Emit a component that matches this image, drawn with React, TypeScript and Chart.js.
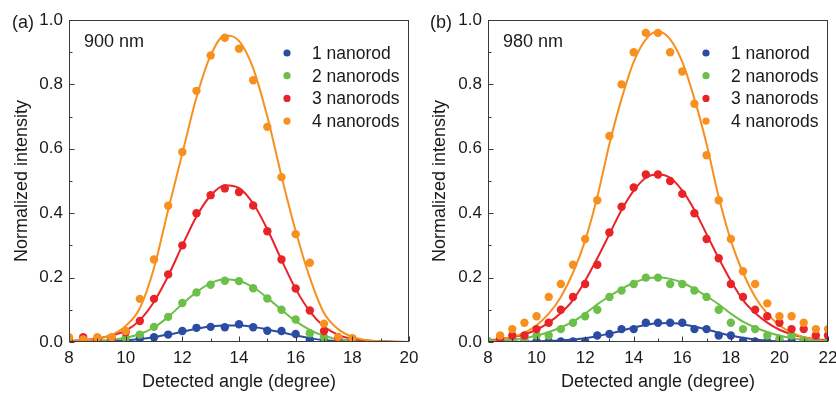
import React, { useEffect, useRef } from 'react';
import { Chart, registerables } from 'chart.js';

Chart.register(...registerables);

const FONT = "'Liberation Sans', Arial, sans-serif";
const TEXT_COLOR = '#1a1a1a';
const FRAME_COLOR = '#3a3a3a';

const SERIES_LABELS = ['1 nanorod', '2 nanorods', '3 nanorods', '4 nanorods'];
const SERIES_COLORS = ['#2b4ca3', '#6cbf48', '#e92429', '#f7901e'];

const X_TITLE = 'Detected angle (degree)';
const Y_TITLE = 'Normalized intensity';

// ---------- Panel (a): 900 nm ----------
const ANGLES_A = [8, 8.5, 9, 9.5, 10, 10.5, 11, 11.5, 12, 12.5, 13, 13.5, 14, 14.5, 15, 15.5, 16, 16.5, 17, 17.5, 18];
const A_ONE = [0.003, 0.002, 0.003, 0.004, 0.006, 0.011, 0.015, 0.023, 0.034, 0.044, 0.047, 0.046, 0.055, 0.046, 0.035, 0.034, 0.025, 0.007, 0.003, 0.002, 0.002];
const A_TWO = [0.003, 0.003, 0.004, 0.01, 0.012, 0.023, 0.047, 0.078, 0.121, 0.154, 0.178, 0.19, 0.189, 0.167, 0.135, 0.1, 0.07, 0.027, 0.015, 0.005, 0.003];
const A_THREE = [0.005, 0.015, 0.008, 0.01, 0.03, 0.065, 0.134, 0.21, 0.3, 0.4, 0.456, 0.477, 0.466, 0.424, 0.344, 0.256, 0.166, 0.098, 0.034, 0.01, 0.005];
const A_FOUR = [0.015, 0.008, 0.015, 0.015, 0.034, 0.134, 0.256, 0.423, 0.59, 0.78, 0.89, 0.945, 0.911, 0.813, 0.668, 0.512, 0.335, 0.246, 0.057, 0.016, 0.012];

const FIT_ANGLES_A = [8, 8.5, 9, 9.5, 10, 10.5, 11, 11.5, 12, 12.5, 13, 13.5, 14, 14.5, 15, 15.5, 16, 16.5, 17, 17.5, 18, 18.5, 19, 19.5, 20];
const A_FIT_ONE = [0, 0.001, 0.002, 0.003, 0.005, 0.009, 0.015, 0.023, 0.032, 0.041, 0.048, 0.051, 0.051, 0.047, 0.039, 0.03, 0.02, 0.012, 0.006, 0.003, 0.001, 0, 0, 0, 0];
const A_FIT_TWO = [0.001, 0.002, 0.004, 0.007, 0.013, 0.025, 0.045, 0.078, 0.118, 0.155, 0.183, 0.195, 0.19, 0.17, 0.137, 0.1, 0.065, 0.038, 0.019, 0.009, 0.004, 0.002, 0.001, 0, 0];
const A_FIT_THREE = [0.003, 0.006, 0.011, 0.02, 0.035, 0.068, 0.125, 0.205, 0.3, 0.39, 0.455, 0.487, 0.478, 0.43, 0.35, 0.255, 0.165, 0.095, 0.048, 0.022, 0.009, 0.004, 0.002, 0.001, 0];
const A_FIT_FOUR = [0.002, 0.004, 0.01, 0.022, 0.05, 0.105, 0.23, 0.41, 0.585, 0.76, 0.89, 0.952, 0.935, 0.85, 0.7, 0.515, 0.345, 0.2, 0.09, 0.04, 0.016, 0.006, 0.002, 0.001, 0];

// ---------- Panel (b): 980 nm ----------
const ANGLES_B = [8, 8.5, 9, 9.5, 10, 10.5, 11, 11.5, 12, 12.5, 13, 13.5, 14, 14.5, 15, 15.5, 16, 16.5, 17, 17.5, 18, 18.5, 19, 19.5, 20, 20.5, 21, 21.5, 22];
const B_ONE = [0.002, 0.002, 0.002, 0.002, 0.002, 0.002, 0.002, 0.002, 0.002, 0.02, 0.025, 0.04, 0.04, 0.06, 0.06, 0.06, 0.06, 0.04, 0.04, 0.02, 0.02, 0.003, 0.002, 0.002, 0.002, 0.002, 0.002, 0.002, 0.002];
const B_TWO = [0.003, 0.003, 0.005, 0.01, 0.02, 0.02, 0.04, 0.06, 0.08, 0.1, 0.14, 0.16, 0.18, 0.2, 0.2, 0.18, 0.18, 0.16, 0.14, 0.1, 0.06, 0.04, 0.04, 0.02, 0.01, 0.02, 0.005, 0.003, 0.003];
const B_THREE = [null, 0.01, 0.02, 0.02, 0.04, 0.06, 0.1, 0.14, 0.18, 0.24, 0.34, 0.42, 0.48, 0.52, 0.52, 0.5, 0.46, 0.4, 0.32, 0.26, 0.18, 0.14, 0.1, 0.08, 0.06, 0.04, 0.04, 0.02, 0.02];
const B_FOUR = [null, 0.02, 0.04, 0.06, 0.08, 0.14, 0.18, 0.24, 0.32, 0.44, 0.64, 0.8, 0.9, 0.96, 0.96, 0.9, 0.84, 0.74, 0.58, 0.44, 0.32, 0.22, 0.18, 0.12, 0.08, 0.08, 0.06, 0.04, 0.04];

const FIT_ANGLES_B = [8, 8.5, 9, 9.5, 10, 10.5, 11, 11.5, 12, 12.5, 13, 13.5, 14, 14.5, 15, 15.5, 16, 16.5, 17, 17.5, 18, 18.5, 19, 19.5, 20, 20.5, 21, 21.5, 22];
const B_FIT_ONE = [0, 0, 0.001, 0.001, 0.002, 0.003, 0.005, 0.008, 0.012, 0.018, 0.026, 0.035, 0.045, 0.053, 0.058, 0.059, 0.055, 0.048, 0.039, 0.029, 0.02, 0.013, 0.008, 0.004, 0.002, 0.001, 0, 0, 0];
const B_FIT_TWO = [0.002, 0.004, 0.007, 0.012, 0.02, 0.031, 0.045, 0.063, 0.088, 0.117, 0.142, 0.165, 0.184, 0.196, 0.2, 0.196, 0.184, 0.165, 0.142, 0.117, 0.088, 0.063, 0.045, 0.031, 0.02, 0.012, 0.007, 0.004, 0.002];
const B_FIT_THREE = [0.005, 0.009, 0.015, 0.024, 0.038, 0.06, 0.09, 0.13, 0.19, 0.26, 0.335, 0.41, 0.47, 0.51, 0.52, 0.51, 0.47, 0.41, 0.335, 0.26, 0.19, 0.13, 0.09, 0.06, 0.038, 0.024, 0.015, 0.009, 0.005];
const B_FIT_FOUR = [0.003, 0.007, 0.015, 0.029, 0.052, 0.088, 0.14, 0.215, 0.315, 0.45, 0.615, 0.755, 0.87, 0.94, 0.964, 0.94, 0.87, 0.755, 0.615, 0.45, 0.315, 0.215, 0.14, 0.088, 0.052, 0.029, 0.015, 0.007, 0.003];

const Y_MIN = 0;
const Y_MAX = 1;
const Y_STEP = 0.2;
const X_STEP = 2;

const CANVAS_W = 418;
const CANVAS_H = 393;

type PanelProps = {
  left: number;
  tag: string;
  wavelength: string;
  xMin: number;
  xMax: number;
  angles: number[];
  series: (number | null)[][];
  fitAngles: number[];
  fits: number[][];
  plotLeft: number;
  padRight: number;
};

const toPoints = (xs: number[], ys: (number | null)[]) =>
  xs.map((x, i) => ({ x, y: ys[i] })).filter((p) => p.y !== null && p.y !== undefined);

function Panel(props: PanelProps) {
  const ref = useRef<HTMLCanvasElement | null>(null);

  useEffect(() => {
    if (!ref.current) return;
    const p = props;

    const fitSets = p.fits.map((ys, i) => ({
      label: SERIES_LABELS[i] + ' fit',
      data: toPoints(p.fitAngles, ys),
      showLine: true,
      borderColor: SERIES_COLORS[i],
      backgroundColor: SERIES_COLORS[i],
      borderWidth: 2,
      pointRadius: 0,
      cubicInterpolationMode: 'monotone' as const,
      order: 10 - i,
    }));
    const pointSets = p.series.map((ys, i) => ({
      label: SERIES_LABELS[i],
      data: toPoints(p.angles, ys),
      showLine: false,
      borderColor: SERIES_COLORS[i],
      backgroundColor: SERIES_COLORS[i],
      pointRadius: 4.2,
      pointBorderWidth: 0,
      order: 5 - i,
    }));

    const decor = {
      id: 'decor',
      afterDraw(chart: any) {
        const ctx = chart.ctx as CanvasRenderingContext2D;
        const { left, right, top, bottom } = chart.chartArea;
        const xs = chart.scales.x;
        const ys = chart.scales.y;
        ctx.save();
        // frame
        ctx.strokeStyle = FRAME_COLOR;
        ctx.lineWidth = 1;
        const L = Math.round(left) + 0.5;
        const R = Math.round(right) - 0.5;
        const T = Math.round(top) + 0.5;
        const B = Math.round(bottom) - 0.5;
        ctx.strokeRect(L, T, R - L, B - T);
        // inward ticks
        ctx.beginPath();
        const xt = xs.ticks.map((t: any) => t.value);
        xt.forEach((v: number, i: number) => {
          const px = Math.round(xs.getPixelForValue(v)) + 0.5;
          ctx.moveTo(px, B);
          ctx.lineTo(px, B - 5);
          if (i < xt.length - 1) {
            const mv = (v + xt[i + 1]) / 2;
            const mx = Math.round(xs.getPixelForValue(mv)) + 0.5;
            ctx.moveTo(mx, B);
            ctx.lineTo(mx, B - 3);
          }
        });
        const yt = ys.ticks.map((t: any) => t.value);
        yt.forEach((v: number, i: number) => {
          const py = Math.round(ys.getPixelForValue(v)) + 0.5;
          ctx.moveTo(L, py);
          ctx.lineTo(L + 5, py);
          if (i < yt.length - 1) {
            const mv = (v + yt[i + 1]) / 2;
            const my = Math.round(ys.getPixelForValue(mv)) + 0.5;
            ctx.moveTo(L, my);
            ctx.lineTo(L + 3, my);
          }
        });
        ctx.stroke();

        ctx.fillStyle = TEXT_COLOR;
        ctx.textBaseline = 'middle';
        // panel tag
        ctx.font = `18px ${FONT}`;
        ctx.textAlign = 'left';
        ctx.fillText(p.tag, 12, top + 3);
        // wavelength
        ctx.fillText(p.wavelength, left + 15, top + 22);
        // axis titles
        ctx.textAlign = 'center';
        ctx.fillText(X_TITLE, (left + right) / 2, 382);
        ctx.save();
        ctx.translate(22, (top + bottom) / 2);
        ctx.rotate(-Math.PI / 2);
        ctx.fillText(Y_TITLE, 0, 0);
        ctx.restore();
        // legend
        ctx.font = `17.5px ${FONT}`;
        ctx.textAlign = 'left';
        SERIES_LABELS.forEach((lab, i) => {
          const yy = top + 33 + i * 22.7;
          ctx.beginPath();
          ctx.fillStyle = SERIES_COLORS[i];
          ctx.arc(right - 122, yy, 3.6, 0, Math.PI * 2);
          ctx.fill();
          ctx.fillStyle = TEXT_COLOR;
          ctx.fillText(lab, right - 97, yy + 1);
        });
        ctx.restore();
      },
    };

    const chart = new Chart(ref.current, {
      type: 'scatter',
      data: { datasets: [...pointSets, ...fitSets] as any },
      options: {
        responsive: false,
        animation: false,
        devicePixelRatio: 1,
        layout: { padding: { top: 20, right: p.padRight, bottom: 0, left: 0 } },
        plugins: {
          legend: { display: false },
          tooltip: { enabled: false },
        },
        scales: {
          x: {
            type: 'linear',
            min: p.xMin,
            max: p.xMax,
            grid: { display: false, drawTicks: false },
            border: { display: false },
            ticks: {
              stepSize: X_STEP,
              autoSkip: false,
              maxRotation: 0,
              padding: 6,
              color: TEXT_COLOR,
              font: { family: FONT, size: 17 },
              callback: (v: any) => String(v),
            },
            afterFit: (s: any) => {
              s.height = CANVAS_H - 342;
              s.paddingLeft = 0;
              s.paddingRight = 0;
            },
          },
          y: {
            type: 'linear',
            min: Y_MIN,
            max: Y_MAX,
            grid: { display: false, drawTicks: false },
            border: { display: false },
            ticks: {
              stepSize: Y_STEP,
              padding: 6,
              color: TEXT_COLOR,
              font: { family: FONT, size: 17 },
              callback: (v: any) => Number(v).toFixed(1),
            },
            afterFit: (s: any) => {
              s.width = p.plotLeft;
              s.paddingTop = 0;
              s.paddingBottom = 0;
            },
          },
        },
      },
      plugins: [decor],
    });
    return () => chart.destroy();
  }, []);

  return (
    <div style={{ position: 'absolute', left: props.left, top: 0, width: CANVAS_W, height: CANVAS_H }}>
      <canvas ref={ref} width={CANVAS_W} height={CANVAS_H} style={{ display: 'block' }} />
    </div>
  );
}

export default function App() {
  return (
    <div style={{ position: 'absolute', left: 0, top: 0, width: 836, height: 393, background: '#fff' }}>
      <Panel
        left={0}
        tag="(a)"
        wavelength="900 nm"
        xMin={8}
        xMax={20}
        angles={ANGLES_A}
        series={[A_ONE, A_TWO, A_THREE, A_FOUR]}
        fitAngles={FIT_ANGLES_A}
        fits={[A_FIT_ONE, A_FIT_TWO, A_FIT_THREE, A_FIT_FOUR]}
        plotLeft={69}
        padRight={9}
      />
      <Panel
        left={418}
        tag="(b)"
        wavelength="980 nm"
        xMin={8}
        xMax={22}
        angles={ANGLES_B}
        series={[B_ONE, B_TWO, B_THREE, B_FOUR]}
        fitAngles={FIT_ANGLES_B}
        fits={[B_FIT_ONE, B_FIT_TWO, B_FIT_THREE, B_FIT_FOUR]}
        plotLeft={70}
        padRight={8}
      />
    </div>
  );
}
